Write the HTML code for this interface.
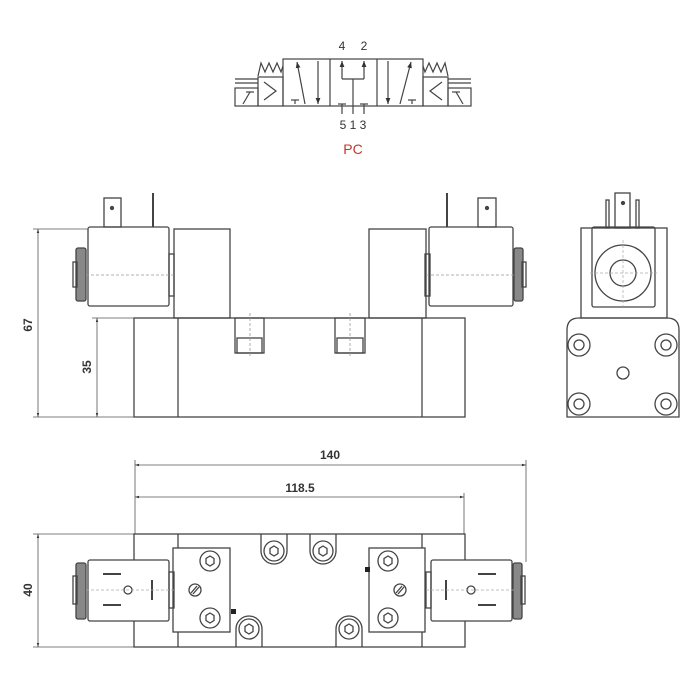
<!DOCTYPE html>
<html><head><meta charset="utf-8"><style>
html,body{margin:0;padding:0;background:#fff;}
svg{display:block;}
text{font-family:"Liberation Sans",sans-serif;fill:#333;}
</style></head><body>
<svg width="700" height="700" viewBox="0 0 700 700" xmlns="http://www.w3.org/2000/svg">
<defs>
<marker id="ar" viewBox="0 0 10 10" refX="10" refY="5" markerWidth="7" markerHeight="5" orient="auto-start-reverse"><path d="M0,2 L10,5 L0,8 z" fill="#333"/></marker>
<marker id="sa" viewBox="0 0 10 10" refX="10" refY="5" markerWidth="5" markerHeight="6" orient="auto"><path d="M0,1 L10,5 L0,9 z" fill="#333"/></marker>
</defs>
<g stroke="#444" stroke-width="1.2" fill="none">
<!-- ===== Symbol ===== -->
<rect x="283" y="59" width="140" height="47"/>
<line x1="330" y1="59" x2="330" y2="106"/><line x1="377" y1="59" x2="377" y2="106"/>
<line x1="305" y1="104" x2="297" y2="62" marker-end="url(#sa)"/>
<line x1="318" y1="61" x2="318" y2="104" marker-end="url(#sa)"/>
<line x1="291" y1="100" x2="299" y2="100"/><line x1="295" y1="100" x2="295" y2="104"/>
<line x1="342" y1="79" x2="342" y2="61" marker-end="url(#sa)"/>
<line x1="364" y1="79" x2="364" y2="61" marker-end="url(#sa)"/>
<line x1="342" y1="79" x2="364" y2="79"/><line x1="353" y1="79" x2="353" y2="114"/>
<line x1="342" y1="104" x2="342" y2="114"/><line x1="338" y1="104" x2="346" y2="104"/>
<line x1="364" y1="104" x2="364" y2="114"/><line x1="360" y1="104" x2="368" y2="104"/>
<line x1="388" y1="61" x2="388" y2="104" marker-end="url(#sa)"/>
<line x1="400" y1="104" x2="411" y2="62" marker-end="url(#sa)"/>
<line x1="408" y1="100" x2="416" y2="100"/><line x1="412" y1="100" x2="412" y2="104"/>
<!-- left actuator -->
<rect x="258" y="77" width="25" height="29"/>
<polyline points="264,82 276,91 264,100"/>
<polyline points="258,76 261,63 265,72 269,63 273,72 277,63 281,72 283,66"/>
<line x1="235" y1="79" x2="258" y2="79"/><line x1="235" y1="83" x2="258" y2="83"/>
<rect x="235" y="88" width="23" height="18"/><line x1="243" y1="104" x2="250" y2="92"/><line x1="246" y1="92" x2="254" y2="92"/>
<!-- right actuator -->
<rect x="423" y="77" width="25" height="29"/>
<polyline points="442,82 430,91 442,100"/>
<polyline points="423,66 425,72 429,63 433,72 437,63 441,72 445,63 448,76"/>
<line x1="448" y1="79" x2="471" y2="79"/><line x1="448" y1="83" x2="471" y2="83"/>
<rect x="448" y="88" width="23" height="18"/><line x1="456" y1="92" x2="463" y2="104"/><line x1="452" y1="92" x2="460" y2="92"/>
</g>
<text x="342" y="50" font-size="12" text-anchor="middle">4</text>
<text x="364" y="50" font-size="12" text-anchor="middle">2</text>
<text x="353" y="129" font-size="12" text-anchor="middle">5 1 3</text>
<text x="353" y="154" font-size="14" text-anchor="middle" style="fill:#c0392b">PC</text>

<g stroke="#444" stroke-width="1.3" fill="none">
<!-- ===== Front view ===== -->
<rect x="134" y="318" width="331" height="99"/>
<line x1="178" y1="318" x2="178" y2="417"/><line x1="422" y1="318" x2="422" y2="417"/>
<rect x="174" y="229" width="56" height="89"/>
<rect x="369" y="229" width="57" height="89"/>
<rect x="235" y="318" width="29" height="35"/><rect x="237" y="338" width="25" height="15"/>
<rect x="335" y="318" width="30" height="35"/><rect x="337" y="338" width="26" height="15"/>
<!-- left coil -->
<rect x="88" y="227" width="81" height="79" rx="2"/>
<rect x="104" y="198" width="17" height="29"/><circle cx="112" cy="208" r="1.5" fill="#444"/>
<line x1="153" y1="193" x2="153" y2="227" stroke-width="2"/>
<rect x="76" y="248" width="10" height="53" rx="2" fill="#888"/><rect x="73" y="262" width="4" height="25"/>
<rect x="169" y="254" width="5" height="42"/>
<!-- right coil -->
<rect x="429" y="227" width="84" height="79" rx="2"/>
<rect x="478" y="198" width="18" height="29"/><circle cx="487" cy="208" r="1.5" fill="#444"/>
<line x1="447" y1="193" x2="447" y2="227" stroke-width="2"/>
<rect x="514" y="248" width="9" height="53" rx="2" fill="#888"/><rect x="522" y="262" width="4" height="25"/>
<rect x="425" y="254" width="5" height="42"/>
</g>
<g stroke="#999" stroke-width="0.8" stroke-dasharray="3,2" fill="none">
<line x1="86" y1="275" x2="176" y2="275"/><line x1="426" y1="275" x2="514" y2="275"/>
<line x1="250" y1="313" x2="250" y2="358"/><line x1="350" y1="313" x2="350" y2="358"/>
</g>
<!-- dims front -->
<g stroke="#555" stroke-width="0.8" fill="none">
<line x1="33" y1="229" x2="88" y2="229"/><line x1="33" y1="417" x2="134" y2="417"/>
<line x1="38" y1="229" x2="38" y2="417" marker-start="url(#ar)" marker-end="url(#ar)"/>
<line x1="92" y1="318" x2="134" y2="318"/>
<line x1="97" y1="318" x2="97" y2="417" marker-start="url(#ar)" marker-end="url(#ar)"/>
</g>
<text transform="translate(32,325) rotate(-90)" font-size="12" font-weight="bold" text-anchor="middle">67</text>
<text transform="translate(91,367) rotate(-90)" font-size="12" font-weight="bold" text-anchor="middle">35</text>

<!-- ===== Side view ===== -->
<g stroke="#444" stroke-width="1.3" fill="none">
<rect x="581" y="228" width="86" height="90"/>
<rect x="592" y="227" width="63" height="80" rx="2"/>
<circle cx="623" cy="273" r="28"/><circle cx="623" cy="273" r="13"/>
<rect x="615" y="193" width="15" height="35"/><circle cx="623" cy="203" r="1.5" fill="#444"/>
<rect x="606" y="200" width="3" height="28"/><rect x="636" y="200" width="3" height="28"/>
<path d="M567,417 L567,330 Q567,318 579,318 L667,318 Q679,318 679,330 L679,417 Z"/>
<circle cx="579" cy="345" r="11"/><circle cx="579" cy="345" r="5"/>
<circle cx="666" cy="345" r="11"/><circle cx="666" cy="345" r="5"/>
<circle cx="579" cy="404" r="11"/><circle cx="579" cy="404" r="5"/>
<circle cx="666" cy="404" r="11"/><circle cx="666" cy="404" r="5"/>
<circle cx="623" cy="373" r="6"/>
</g>
<g stroke="#aaa" stroke-width="0.7" stroke-dasharray="3,2">
<line x1="590" y1="273" x2="657" y2="273"/><line x1="623" y1="240" x2="623" y2="307"/>
</g>

<!-- ===== Dimensions 140/118.5 ===== -->
<g stroke="#555" stroke-width="0.8" fill="none">
<line x1="135" y1="460" x2="135" y2="534"/><line x1="526" y1="460" x2="526" y2="562"/><line x1="464" y1="493" x2="464" y2="534"/>
<line x1="135" y1="465" x2="526" y2="465" marker-start="url(#ar)" marker-end="url(#ar)"/>
<line x1="135" y1="497" x2="464" y2="497" marker-start="url(#ar)" marker-end="url(#ar)"/>
<line x1="33" y1="534" x2="134" y2="534"/><line x1="33" y1="647" x2="134" y2="647"/>
<line x1="38" y1="534" x2="38" y2="647" marker-start="url(#ar)" marker-end="url(#ar)"/>
</g>
<text x="330" y="459" font-size="12" font-weight="bold" text-anchor="middle">140</text>
<text x="300" y="492" font-size="12" font-weight="bold" text-anchor="middle">118.5</text>
<text transform="translate(32,590) rotate(-90)" font-size="12" font-weight="bold" text-anchor="middle">40</text>

<!-- ===== Bottom view ===== -->
<g stroke="#444" stroke-width="1.3" fill="none">
<rect x="134" y="534" width="331" height="113"/>
<line x1="178" y1="534" x2="178" y2="647"/><line x1="422" y1="534" x2="422" y2="647"/>
<path d="M261,534 L261,551 A13,13 0 0 0 287,551 L287,534"/>
<path d="M310,534 L310,551 A13,13 0 0 0 336,551 L336,534"/>
<path d="M236,647 L236,629 A13,13 0 0 1 262,629 L262,647"/>
<path d="M336,647 L336,629 A13,13 0 0 1 362,629 L362,647"/>
<circle cx="274" cy="551" r="10" fill="#fff"/><polygon points="274,546 278,548.5 278,553.5 274,556 270,553.5 270,548.5"/>
<circle cx="323" cy="551" r="10" fill="#fff"/><polygon points="323,546 327,548.5 327,553.5 323,556 319,553.5 319,548.5"/>
<circle cx="249" cy="629" r="10" fill="#fff"/><polygon points="249,624 253,626.5 253,631.5 249,634 245,631.5 245,626.5"/>
<circle cx="349" cy="629" r="10" fill="#fff"/><polygon points="349,624 353,626.5 353,631.5 349,634 345,631.5 345,626.5"/>
<rect x="173" y="548" width="57" height="84" fill="#fff"/>
<rect x="369" y="548" width="56" height="84" fill="#fff"/>
<circle cx="210" cy="561" r="10"/><polygon points="210,556 214,558.5 214,563.5 210,566 206,563.5 206,558.5"/>
<circle cx="210" cy="618" r="10"/><polygon points="210,613 214,615.5 214,620.5 210,623 206,620.5 206,615.5"/>
<circle cx="388" cy="561" r="10"/><polygon points="388,556 392,558.5 392,563.5 388,566 384,563.5 384,558.5"/>
<circle cx="388" cy="618" r="10"/><polygon points="388,613 392,615.5 392,620.5 388,623 384,620.5 384,615.5"/>
<circle cx="195" cy="590" r="6"/><line x1="191" y1="593" x2="197" y2="586"/><line x1="193" y1="594" x2="199" y2="587"/>
<circle cx="400" cy="590" r="6"/><line x1="396" y1="593" x2="402" y2="586"/><line x1="398" y1="594" x2="404" y2="587"/>
<!-- coils -->
<rect x="88" y="560" width="81" height="61" rx="2" fill="#fff"/>
<rect x="76" y="563" width="10" height="56" rx="2" fill="#888"/><rect x="73" y="576" width="4" height="28"/>
<rect x="169" y="572" width="5" height="36"/>
<line x1="103" y1="574" x2="121" y2="574" stroke-width="2"/><line x1="103" y1="605" x2="121" y2="605" stroke-width="2"/>
<circle cx="128" cy="590" r="4"/><line x1="152" y1="580" x2="152" y2="600" stroke-width="2"/>
<rect x="431" y="560" width="81" height="61" rx="2" fill="#fff"/>
<rect x="513" y="563" width="9" height="56" rx="2" fill="#888"/><rect x="521" y="576" width="4" height="28"/>
<rect x="426" y="572" width="5" height="36"/>
<line x1="478" y1="574" x2="496" y2="574" stroke-width="2"/><line x1="478" y1="605" x2="496" y2="605" stroke-width="2"/>
<circle cx="471" cy="590" r="4"/><line x1="446" y1="580" x2="446" y2="600" stroke-width="2"/>
</g>
<rect x="231" y="609" width="5" height="5" fill="#222"/>
<rect x="365" y="567" width="5" height="5" fill="#222"/>
<g stroke="#aaa" stroke-width="0.7" stroke-dasharray="3,2">
<line x1="86" y1="590" x2="176" y2="590"/><line x1="426" y1="590" x2="514" y2="590"/>
</g>
</svg>
</body></html>
